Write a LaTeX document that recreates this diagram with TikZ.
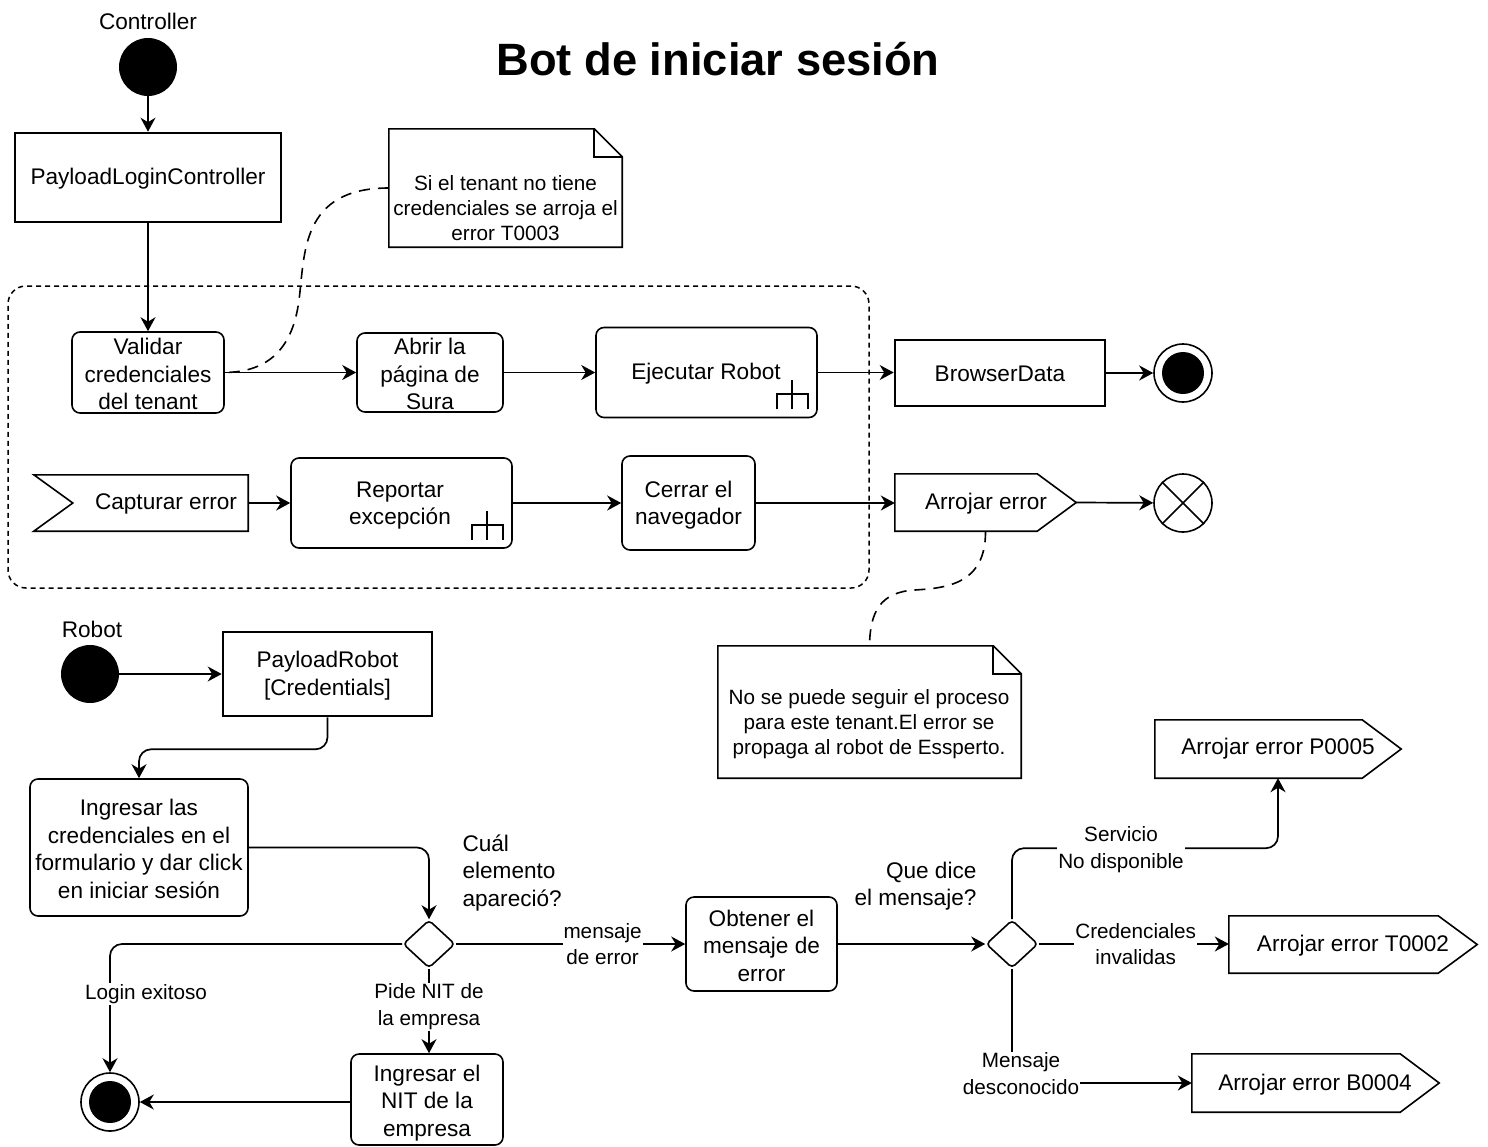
\documentclass[tikz,border=0pt]{standalone}
\usepackage{fontspec}
\setmainfont{Liberation Sans}
\usetikzlibrary{arrows.meta,shapes.geometric,calc}

\tikzset{
  act/.style={draw, rounded corners=8pt, line width=1.6pt, align=center, inner sep=0pt},
  obj/.style={draw, line width=2.6pt, align=center, inner sep=0pt},
  box/.style={inner sep=0pt, align=center},
  tip/.style={-{Stealth[length=14pt,width=15pt,inset=4.5pt]}},
  flow/.style={line width=1.7pt, tip},
  elabel/.style={fill=white, font=\fontsize{20.7}{26.5}\selectfont, align=center, inner sep=1pt},
  notetext/.style={font=\fontsize{20.7}{25}\selectfont, align=center},
  startdot/.style={circle, fill=black, minimum size=58pt, inner sep=0pt},
  ring/.style={circle, draw, line width=1.6pt, fill=white, minimum size=58pt, inner sep=0pt},
  enddot/.style={circle, fill=black, minimum size=42pt, inner sep=0pt},
  gate/.style={diamond, draw, line width=1.6pt, minimum width=52pt, minimum height=48pt, inner sep=0pt, rounded corners=4pt},
  noteline/.style={dashed, dash pattern=on 11pt off 8pt, line width=1.6pt},
}

% send-signal outline around a node whose width includes the tip
\newcommand{\sigshape}[1]{%
  \draw[line width=1.6pt] (#1.north west) -- ($(#1.north east)+(-39,0)$) -- (#1.east)
    -- ($(#1.south east)+(-39,0)$) -- (#1.south west) -- cycle;}
% note outline with folded corner
\newcommand{\noteshape}[1]{%
  \draw[line width=1.6pt] (#1.north west) -- ($(#1.north east)+(-28,0)$) -- ($(#1.north east)+(0,28)$)
    -- (#1.south east) -- (#1.south west) -- cycle;
  \draw[line width=2.4pt] ($(#1.north east)+(-28,0)$) -- ($(#1.north east)+(-28,28)$) -- ($(#1.north east)+(0,28)$);}
% sub-process rake mark in the lower right corner of an action
\newcommand{\rakemark}[1]{%
  \draw[line width=2pt] ($(#1.south east)+(-41,-9)$) -- ++(0,-15) -- ++(31,0) -- ++(0,15);
  \draw[line width=2pt] ($(#1.south east)+(-25.5,-9)$) -- ++(0,-29);}

\begin{document}
\begin{tikzpicture}[x=1pt, y=-1pt, font=\fontsize{22.6}{27.5}\selectfont]
\fill[white] (0,0) rectangle (1488,1146);
\useasboundingbox (0,0) rectangle (1488,1146);

% ---------- title ----------
\node[font=\fontsize{45.3}{54}\selectfont\bfseries] (title) at (718,59) {Bot de iniciar sesión};

% ---------- controller part ----------
\node (lc) at (148,21) {Controller};
\node[startdot] (s1) at (148,67) {};
\node[obj, minimum width=266pt, minimum height=89pt] (plc) at (148,177.5) {};
\node (plct) at (148,179) {PayloadLoginController};

\node[box, minimum width=233pt, minimum height=118pt] (n1) at (505.5,188) {};
\noteshape{n1}
\node[notetext] (n1t) at (505.5,208.5) {Si el tenant no tiene\\credenciales se arroja el\\error T0003};

\node[draw, dash pattern=on 5pt off 4pt, line width=1.5pt, rounded corners=18pt,
      minimum width=861pt, minimum height=302pt, inner sep=0pt] (grp) at (438.5,437) {};

\node[act, minimum width=152pt, minimum height=81pt] (val) at (148,372.5) {};
\node[align=center] (valt) at (148,374) {Validar\\credenciales\\del tenant};
\node[act, minimum width=146pt, minimum height=79pt] (abr) at (430,372.5) {};
\node[align=center] (abrt) at (430,374) {Abrir la\\página de\\Sura};
\node[act, minimum width=221pt, minimum height=90pt] (ejr) at (706.5,372.5) {};
\node (ejrt) at (706,373.5) {Ejecutar Robot};
\rakemark{ejr}

\node[box, minimum width=214pt, minimum height=56pt] (cap) at (141,503) {};
\draw[line width=1.6pt] (cap.north west) -- (cap.north east) -- (cap.south east) -- (cap.south west)
  -- ($(cap.west)+(39,0)$) -- cycle;
\node (capt) at (166,503.5) {Capturar error};
\node[act, minimum width=221pt, minimum height=90pt] (rep) at (401.5,503) {};
\node[align=center] (rept) at (400,505.5) {Reportar\\excepción};
\rakemark{rep}
\node[act, minimum width=133pt, minimum height=94pt] (cer) at (688.5,503) {};
\node[align=center] (cert) at (688.5,505) {Cerrar el\\navegador};

\node[obj, minimum width=210pt, minimum height=66pt] (bd) at (1000,373) {};
\node (bdt) at (1000,374) {BrowserData};
\node[ring] (e1) at (1183,373) {};
\node[enddot] (e1in) at (e1) {};

\node[box, minimum width=181pt, minimum height=57pt] (ae) at (985.5,502.5) {};
\sigshape{ae}
\node (aet) at (986,504) {Arrojar error};
\node[ring] (ff) at (1183,503) {};
\draw[line width=1.6pt] (ff.north west) -- (ff.south east) (ff.north east) -- (ff.south west);

\node[box, minimum width=303pt, minimum height=132pt] (n2) at (869.5,712) {};
\noteshape{n2}
\node[notetext] (n2t) at (869,724.5) {No se puede seguir el proceso\\para este tenant.El error se\\propaga al robot de Essperto.};

% controller connectors
\draw[flow] (s1) -- (plc);
\draw[flow] (plc) -- (val);
\draw[flow] (val.east) -- (abr.west);
\draw[flow] (abr.east) -- (abr.east -| ejr.west);
\draw[flow] (ejr.east) -- (ejr.east -| bd.west);
\draw[line width=2.6pt, tip] (bd.east) -- (e1);
\draw[line width=2.4pt, tip] (cap.east) -- (cap.east -| rep.west);
\draw[line width=2.2pt, tip] (rep.east) -- (rep.east -| cer.west);
\draw[flow] (cer.east) -- (cer.east -| ae.west);
\draw[flow] (ae.east) -- (ff);
\draw[noteline] (n1.west) .. controls (300,188) and (305,255) .. (299,300)
  .. controls (292,355) and (262,372) .. (val.east);
\draw[noteline] (ae.south) .. controls (986,585) and (945,588) .. (915,590)
  .. controls (880,592) and (870,612) .. (n2.north);

% ---------- robot part ----------
\node (lr) at (92,629) {Robot};
\node[startdot] (s2) at (90,674) {};
\node[obj, minimum width=209pt, minimum height=84pt] (pr) at (327.5,674) {};
\node[align=center] (prt) at (327.5,675.5) {PayloadRobot\\{[Credentials]}};
\node[act, minimum width=218pt, minimum height=137pt] (ing) at (139,847.5) {};
\node[align=center] (ingt) at (139,849)
  {Ingresar las\\credenciales en el\\formulario y dar click\\en iniciar sesión};
\node[gate] (d1) at (429,944) {};
\node[anchor=west, align=left] (q1) at (459,873) {Cuál\\elemento\\apareció?};
\node[act, minimum width=151pt, minimum height=94pt] (ob) at (761.5,944) {};
\node[align=center] (obt) at (761.5,945.5) {Obtener el\\mensaje de\\error};
\node[gate] (d2) at (1012,944) {};
\node[anchor=east, align=right] (q2) at (980,886) {Que dice\\el mensaje?};

\node[ring] (e2) at (110,1102) {};
\node[enddot] (e2in) at (e2) {};
\node[act, minimum width=152pt, minimum height=91pt] (nit) at (427,1099.5) {};
\node[align=center] (nitt) at (427,1103) {Ingresar el\\NIT de la\\empresa};

\node[box, minimum width=246pt, minimum height=58pt] (p5) at (1278,749) {};
\sigshape{p5}
\node (p5t) at (1278,748.5) {Arrojar error P0005};
\node[box, minimum width=248pt, minimum height=57pt] (t2) at (1353,944.5) {};
\sigshape{t2}
\node (t2t) at (1353,945.5) {Arrojar error T0002};
\node[box, minimum width=247pt, minimum height=58pt] (b4) at (1315.5,1083) {};
\sigshape{b4}
\node (b4t) at (1315,1084.5) {Arrojar error B0004};

% robot connectors
\draw[flow] (s2) -- (pr);
\draw[flow, rounded corners=12pt] (pr.south) -- ++(0,32) -| (ing.north);
\draw[flow, rounded corners=12pt] (ing.east) -| (d1.north);
\draw[flow] (d1.east) -- node[elabel, pos=0.64] (l1) {mensaje\\de error} (ob.west);
\draw[flow] (ob.east) -- (d2.west);
\draw[flow, rounded corners=12pt] (d1.west) -| (e2.north);
\node[elabel] (l2) at (146,994) {Login exitoso};
\draw[flow] (d1.south) -- node[elabel, pos=0.45] (l3) {Pide NIT de\\la empresa} (d1.south |- nit.north);
\draw[flow] (nit.west |- e2.east) -- (e2.east);

\draw[flow, rounded corners=12pt] (d2.north) |- ($(p5.south)+(0,70)$) -- (p5.south);
\node[elabel] (l4) at (1121,849.5) {Servicio\\No disponible};
\draw[flow] (d2.east) -- node[elabel, pos=0.51] (l5) {Credenciales\\invalidas} (d2.east -| t2.west);
\draw[flow] (d2.south) |- (b4.west);
\node[elabel] (l6) at (1021,1073.5) {Mensaje\\desconocido};
\end{tikzpicture}
\end{document}
